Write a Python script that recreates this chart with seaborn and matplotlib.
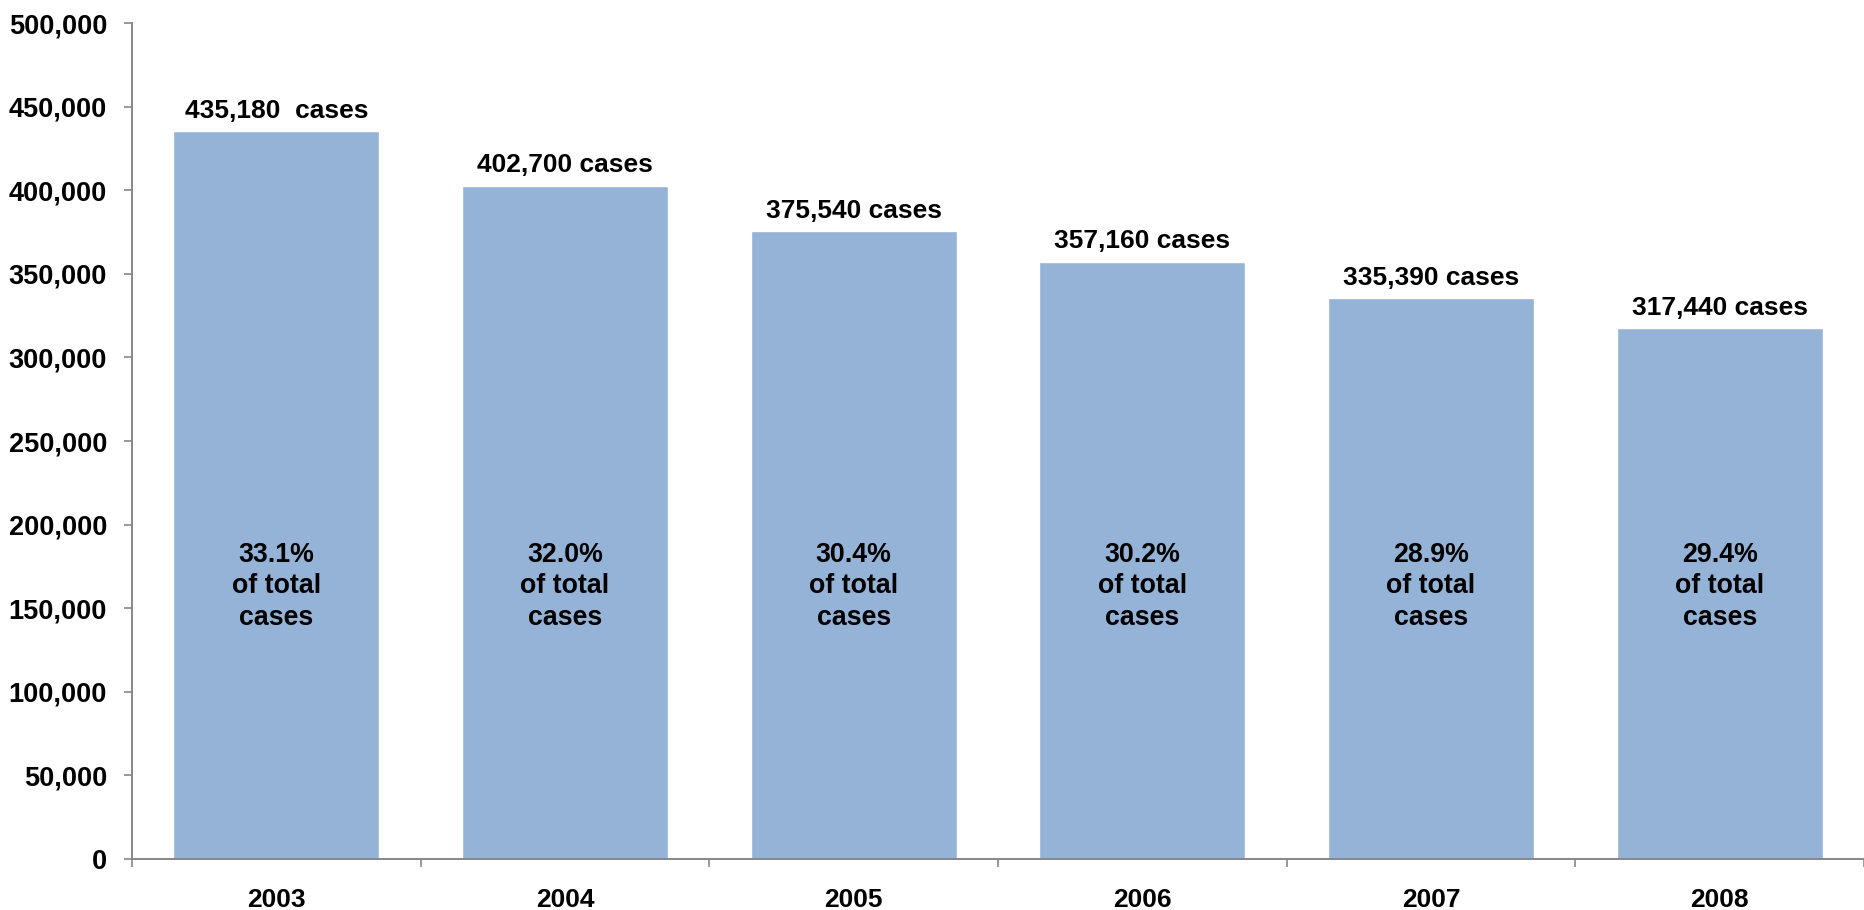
import matplotlib
matplotlib.use("Agg")
import matplotlib.pyplot as plt
import matplotlib.ticker as mticker
import seaborn as sns
import pandas as pd

# values
years = ['2003', '2004', '2005', '2006', '2007', '2008']
cases = [435180, 402700, 375540, 357160, 335390, 317440]
top_labels = ['435,180  cases', '402,700 cases', '375,540 cases',
              '357,160 cases', '335,390 cases', '317,440 cases']
share = ['33.1%', '32.0%', '30.4%', '30.2%', '28.9%', '29.4%']

df = pd.DataFrame({'year': years, 'cases': cases})

sns.set_style("white")
plt.rcParams['font.family'] = ['Liberation Sans', 'DejaVu Sans']
plt.rcParams['font.weight'] = 'bold'

axis_grey = '#878787'
bar_blue = '#95b3d7'

fig = plt.figure(figsize=(18.64, 9.10), dpi=100)
ax = fig.add_axes([132 / 1864, 1 - 859 / 910, 1732 / 1864, 836 / 910])

sns.barplot(data=df, x='year', y='cases', color=bar_blue, saturation=1,
            width=0.714, ax=ax)

ax.set_xlim(-0.5, -0.5 + 1732 / 290)
ax.set_ylim(0, 500000)
ax.yaxis.set_major_locator(mticker.MultipleLocator(50000))
ax.yaxis.set_major_formatter(mticker.FuncFormatter(lambda v, p: f'{int(v):,}'))

# category boundary ticks on x
ax.set_xticks([i + 0.5 for i in range(-1, len(years))], minor=True)
ax.tick_params(axis='x', which='major', length=0, pad=21, labelsize=19,
               labelcolor='black')
ax.tick_params(axis='x', which='minor', length=6, width=1.2, color=axis_grey,
               direction='out', bottom=True)
ax.tick_params(axis='y', length=6, width=1.2, color=axis_grey, direction='out',
               left=True, pad=12, labelsize=19.5, labelcolor='black')
for lab in ax.get_xticklabels() + ax.get_yticklabels():
    lab.set_fontweight('bold')

for side in ['top', 'right']:
    ax.spines[side].set_visible(False)
for side in ['left', 'bottom']:
    ax.spines[side].set_color(axis_grey)
    ax.spines[side].set_linewidth(1.4)

ax.set_xlabel('')
ax.set_ylabel('')

ax.bar_label(ax.containers[0], labels=top_labels, padding=6, fontsize=19,
             fontweight='bold', color='black')

for i, s in enumerate(share):
    ax.text(i, 163000, f'{s}\nof total\ncases', ha='center', va='center',
            fontsize=19.3, fontweight='bold', color='black', linespacing=1.27)

fig.savefig('out.png', dpi=100)
